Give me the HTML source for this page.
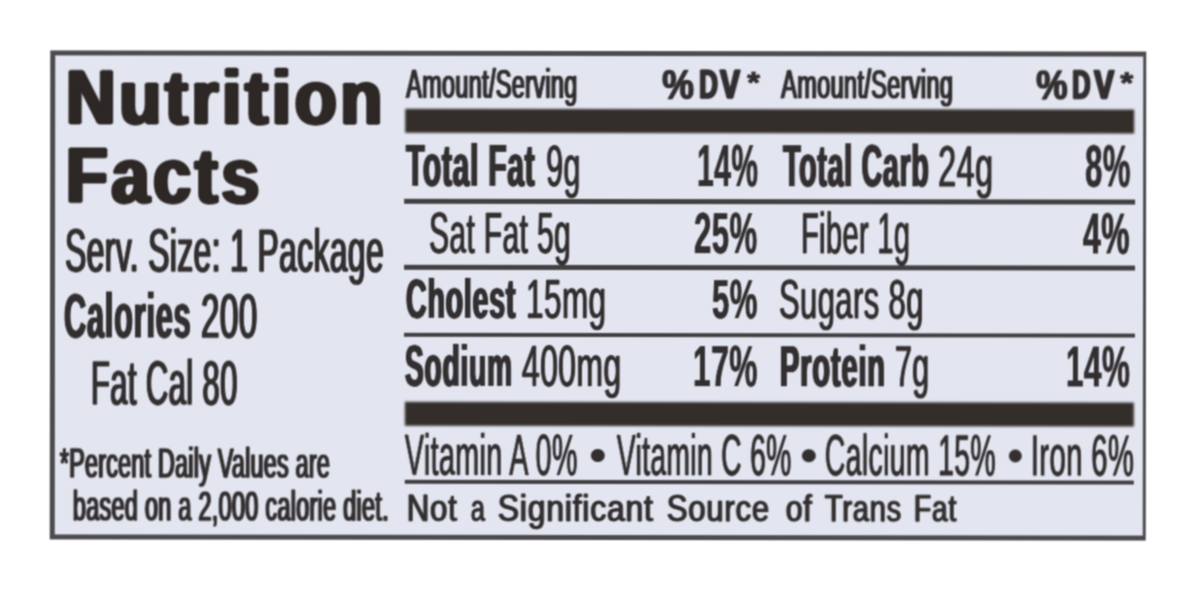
<!DOCTYPE html>
<html lang="en"><head><meta charset="utf-8"><title>Nutrition Facts</title>
<style>
html,body{margin:0;padding:0;background:#fff;overflow:hidden;}
body{width:1196px;height:591px;position:relative;overflow:hidden;font-family:"Liberation Sans",sans-serif;color:#332f30;}
#wrap{position:absolute;left:0;top:0;width:1196px;height:591px;transform:rotate(0.06deg);transform-origin:598px 295px;filter:url(#soft);}
.label{position:absolute;left:49.8px;top:50.8px;width:1096.5px;height:489.3px;background:#4e4b50;}
.panel{position:absolute;left:5.6px;top:5.6px;width:1087.3px;height:478.7px;background:#e3e6f0;}
.t{position:absolute;white-space:nowrap;line-height:1;transform-origin:0 0;margin:0;}
.r{position:absolute;}
.bar{filter:blur(0.9px);}
.rule{filter:blur(0.4px);}
.g{margin:0;padding:0;font:inherit;display:block;}
.b{position:absolute;border-radius:50%;background:#332f30;}
</style></head><body>
<svg width="0" height="0" style="position:absolute" aria-hidden="true"><defs><filter id="soft" x="0" y="0" width="100%" height="100%" color-interpolation-filters="sRGB"><feConvolveMatrix order="3" kernelMatrix="1 2 1 2 4 2 1 2 1" divisor="16" edgeMode="duplicate" preserveAlpha="false"/></filter></defs></svg>
<div id="wrap">
<div class="label"><div class="panel"></div></div>
<div class="r bar" style="left:405.2px;top:108.6px;width:728.5px;height:24.4px;background:#342e2b"></div>
<div class="r bar" style="left:405.0px;top:402.4px;width:728.5px;height:23.2px;background:#342e2b"></div>
<div class="r rule" style="left:404px;top:199.0px;width:730.5px;height:4.8px;background:#424043"></div>
<div class="r rule" style="left:404px;top:265.4px;width:730.5px;height:4.8px;background:#424043"></div>
<div class="r rule" style="left:404px;top:332.5px;width:730.5px;height:4.8px;background:#424043"></div>
<div class="r rule" style="left:404.5px;top:479.6px;width:729.0px;height:4.7px;background:#424043"></div>
<h1 class="g title">
<span class="t" style="left:66.47px;top:59.60px;font-size:76.75px;transform:scaleX(0.8882);font-weight:700;color:#2d2725;-webkit-text-stroke:2.0px #2d2725;letter-spacing:4.5px;text-shadow:0.83px 0 0 #2d2725,-0.83px 0 0 #2d2725,1.67px 0 0 #2d2725,-1.67px 0 0 #2d2725,2.50px 0 0 #2d2725,-2.50px 0 0 #2d2725;">Nutrition</span>
<span class="t" style="left:66.48px;top:138.00px;font-size:77.04px;transform:scaleX(0.8811);font-weight:700;color:#2d2725;-webkit-text-stroke:2.0px #2d2725;letter-spacing:4.5px;text-shadow:0.83px 0 0 #2d2725,-0.83px 0 0 #2d2725,1.67px 0 0 #2d2725,-1.67px 0 0 #2d2725,2.50px 0 0 #2d2725,-2.50px 0 0 #2d2725;">Facts</span>
</h1>
<section class="g serving">
<span class="t" style="left:65.07px;top:221.05px;font-size:61.05px;transform:scaleX(0.5205);-webkit-text-stroke:0.5px #332f30;letter-spacing:0.8px;text-shadow:0.75px 0 0 #332f30,-0.75px 0 0 #332f30,1.50px 0 0 #332f30,-1.50px 0 0 #332f30;">Serv. Size: 1 Package</span>
<span class="t" style="left:64.36px;top:285.20px;font-size:63.37px;transform:scaleX(0.4863);font-weight:700;letter-spacing:1.5px;text-shadow:0.75px 0 0 #332f30,-0.75px 0 0 #332f30,1.50px 0 0 #332f30,-1.50px 0 0 #332f30;">Calories</span>
<span class="t" style="left:200.74px;top:284.95px;font-size:62.65px;transform:scaleX(0.5307);-webkit-text-stroke:0.5px #332f30;letter-spacing:0.8px;text-shadow:0.75px 0 0 #332f30,-0.75px 0 0 #332f30,1.50px 0 0 #332f30,-1.50px 0 0 #332f30;">200</span>
<span class="t" style="left:91.18px;top:352.75px;font-size:62.07px;transform:scaleX(0.4986);-webkit-text-stroke:0.5px #332f30;letter-spacing:0.8px;text-shadow:0.75px 0 0 #332f30,-0.75px 0 0 #332f30,1.50px 0 0 #332f30,-1.50px 0 0 #332f30;">Fat Cal 80</span>
</section>
<p class="g footnote">
<span class="t" style="left:60.41px;top:442.95px;font-size:42.44px;transform:scaleX(0.5482);-webkit-text-stroke:0.7px #332f30;letter-spacing:0.5px;text-shadow:0.75px 0 0 #332f30,-0.75px 0 0 #332f30,1.50px 0 0 #332f30,-1.50px 0 0 #332f30;">*Percent Daily Values are</span>
<span class="t" style="left:72.52px;top:485.65px;font-size:42.15px;transform:scaleX(0.5566);-webkit-text-stroke:0.7px #332f30;letter-spacing:0.5px;text-shadow:0.75px 0 0 #332f30,-0.75px 0 0 #332f30,1.50px 0 0 #332f30,-1.50px 0 0 #332f30;">based on a 2,000 calorie diet.</span>
</p>
<header class="g thead">
<span class="t" style="left:406.49px;top:62.70px;font-size:41.57px;transform:scaleX(0.5635);-webkit-text-stroke:0.6px #332f30;letter-spacing:0.6px;text-shadow:0.72px 0 0 #332f30,-0.72px 0 0 #332f30,1.45px 0 0 #332f30,-1.45px 0 0 #332f30;">Amount/Serving</span>
<span class="t" style="left:661.54px;top:63.65px;font-size:41.86px;transform:scaleX(0.8530);font-weight:700;-webkit-text-stroke:0.5px #332f30;text-shadow:0.80px 0 0 #332f30,-0.80px 0 0 #332f30;">%</span>
<span class="t" style="left:698.96px;top:65.10px;font-size:40.26px;transform:scaleX(0.6429);font-weight:700;-webkit-text-stroke:1.6px #332f30;text-shadow:0.80px 0 0 #332f30,-0.80px 0 0 #332f30,1.60px 0 0 #332f30,-1.60px 0 0 #332f30;">D</span>
<span class="t" style="left:720.35px;top:65.10px;font-size:40.26px;transform:scaleX(0.7296);font-weight:700;-webkit-text-stroke:1.6px #332f30;text-shadow:0.80px 0 0 #332f30,-0.80px 0 0 #332f30,1.60px 0 0 #332f30,-1.60px 0 0 #332f30;">V</span>
<span class="t" style="left:746.70px;top:67.00px;font-size:30.23px;transform:scaleX(1.0752);font-weight:700;-webkit-text-stroke:0.8px #332f30;text-shadow:0.25px 0 0 #332f30,-0.25px 0 0 #332f30;">*</span>
<span class="t" style="left:780.79px;top:62.70px;font-size:41.57px;transform:scaleX(0.5658);-webkit-text-stroke:0.6px #332f30;letter-spacing:0.6px;text-shadow:0.72px 0 0 #332f30,-0.72px 0 0 #332f30,1.45px 0 0 #332f30,-1.45px 0 0 #332f30;">Amount/Serving</span>
<span class="t" style="left:1035.54px;top:63.65px;font-size:41.86px;transform:scaleX(0.8425);font-weight:700;-webkit-text-stroke:0.5px #332f30;text-shadow:0.80px 0 0 #332f30,-0.80px 0 0 #332f30;">%</span>
<span class="t" style="left:1071.85px;top:65.10px;font-size:40.26px;transform:scaleX(0.6299);font-weight:700;-webkit-text-stroke:1.6px #332f30;text-shadow:0.80px 0 0 #332f30,-0.80px 0 0 #332f30,1.60px 0 0 #332f30,-1.60px 0 0 #332f30;">D</span>
<span class="t" style="left:1094.07px;top:65.10px;font-size:40.26px;transform:scaleX(0.7358);font-weight:700;-webkit-text-stroke:1.6px #332f30;text-shadow:0.80px 0 0 #332f30,-0.80px 0 0 #332f30,1.60px 0 0 #332f30,-1.60px 0 0 #332f30;">V</span>
<span class="t" style="left:1119.82px;top:67.40px;font-size:30.23px;transform:scaleX(1.1053);font-weight:700;-webkit-text-stroke:0.8px #332f30;text-shadow:0.25px 0 0 #332f30,-0.25px 0 0 #332f30;">*</span>
</header>
<section class="g rows">
<span class="t" style="left:406.27px;top:136.80px;font-size:58.58px;transform:scaleX(0.5107);font-weight:700;letter-spacing:1.5px;text-shadow:0.75px 0 0 #332f30,-0.75px 0 0 #332f30,1.50px 0 0 #332f30,-1.50px 0 0 #332f30;">Total Fat</span>
<span class="t" style="left:545.50px;top:136.65px;font-size:58.14px;transform:scaleX(0.5239);-webkit-text-stroke:0.3px #332f30;letter-spacing:0.8px;text-shadow:0.90px 0 0 #332f30,-0.90px 0 0 #332f30;">9g</span>
<span class="t" style="left:696.50px;top:136.80px;font-size:58.58px;transform:scaleX(0.5111);font-weight:700;letter-spacing:0.9px;text-shadow:0.45px 0 0 #332f30,-0.45px 0 0 #332f30;">14%</span>
<span class="t" style="left:782.73px;top:136.80px;font-size:58.58px;transform:scaleX(0.4874);font-weight:700;letter-spacing:1.5px;text-shadow:0.75px 0 0 #332f30,-0.75px 0 0 #332f30,1.50px 0 0 #332f30,-1.50px 0 0 #332f30;">Total Carb</span>
<span class="t" style="left:938.17px;top:136.65px;font-size:58.14px;transform:scaleX(0.5569);-webkit-text-stroke:0.3px #332f30;letter-spacing:0.8px;text-shadow:0.90px 0 0 #332f30,-0.90px 0 0 #332f30;">24g</span>
<span class="t" style="left:1084.61px;top:136.80px;font-size:58.58px;transform:scaleX(0.5286);font-weight:700;letter-spacing:0.9px;text-shadow:0.45px 0 0 #332f30,-0.45px 0 0 #332f30;">8%</span>
<span class="t" style="left:429.00px;top:204.65px;font-size:56.98px;transform:scaleX(0.5246);-webkit-text-stroke:0.3px #332f30;letter-spacing:0.8px;text-shadow:0.90px 0 0 #332f30,-0.90px 0 0 #332f30;">Sat Fat 5g</span>
<span class="t" style="left:694.13px;top:204.80px;font-size:57.41px;transform:scaleX(0.5413);font-weight:700;letter-spacing:0.9px;text-shadow:0.50px 0 0 #332f30,-0.50px 0 0 #332f30;">25%</span>
<span class="t" style="left:800.80px;top:204.65px;font-size:56.98px;transform:scaleX(0.5076);-webkit-text-stroke:0.3px #332f30;letter-spacing:0.8px;text-shadow:0.90px 0 0 #332f30,-0.90px 0 0 #332f30;">Fiber 1g</span>
<span class="t" style="left:1083.48px;top:204.80px;font-size:57.41px;transform:scaleX(0.5523);font-weight:700;letter-spacing:0.9px;text-shadow:0.50px 0 0 #332f30,-0.50px 0 0 #332f30;">4%</span>
<span class="t" style="left:405.84px;top:271.00px;font-size:55.96px;transform:scaleX(0.5108);font-weight:700;letter-spacing:1.5px;text-shadow:0.75px 0 0 #332f30,-0.75px 0 0 #332f30,1.50px 0 0 #332f30,-1.50px 0 0 #332f30;">Cholest</span>
<span class="t" style="left:526.33px;top:271.85px;font-size:55.52px;transform:scaleX(0.5671);-webkit-text-stroke:0.3px #332f30;letter-spacing:0.8px;text-shadow:0.90px 0 0 #332f30,-0.90px 0 0 #332f30;">15mg</span>
<span class="t" style="left:711.69px;top:271.00px;font-size:55.96px;transform:scaleX(0.5561);font-weight:700;letter-spacing:0.9px;text-shadow:0.45px 0 0 #332f30,-0.45px 0 0 #332f30;">5%</span>
<span class="t" style="left:779.07px;top:271.85px;font-size:55.52px;transform:scaleX(0.5563);-webkit-text-stroke:0.3px #332f30;letter-spacing:0.8px;text-shadow:0.90px 0 0 #332f30,-0.90px 0 0 #332f30;">Sugars 8g</span>
<span class="t" style="left:405.04px;top:337.70px;font-size:57.70px;transform:scaleX(0.4896);font-weight:700;letter-spacing:1.5px;text-shadow:0.75px 0 0 #332f30,-0.75px 0 0 #332f30,1.50px 0 0 #332f30,-1.50px 0 0 #332f30;">Sodium</span>
<span class="t" style="left:522.03px;top:337.55px;font-size:57.27px;transform:scaleX(0.5563);-webkit-text-stroke:0.3px #332f30;letter-spacing:0.8px;text-shadow:0.90px 0 0 #332f30,-0.90px 0 0 #332f30;">400mg</span>
<span class="t" style="left:693.00px;top:337.70px;font-size:57.70px;transform:scaleX(0.5498);font-weight:700;letter-spacing:0.9px;text-shadow:0.45px 0 0 #332f30,-0.45px 0 0 #332f30;">17%</span>
<span class="t" style="left:780.24px;top:337.70px;font-size:57.70px;transform:scaleX(0.5061);font-weight:700;letter-spacing:1.5px;text-shadow:0.75px 0 0 #332f30,-0.75px 0 0 #332f30,1.50px 0 0 #332f30,-1.50px 0 0 #332f30;">Protein</span>
<span class="t" style="left:894.90px;top:337.55px;font-size:57.27px;transform:scaleX(0.5313);-webkit-text-stroke:0.3px #332f30;letter-spacing:0.8px;text-shadow:0.90px 0 0 #332f30,-0.90px 0 0 #332f30;">7g</span>
<span class="t" style="left:1065.91px;top:337.70px;font-size:57.70px;transform:scaleX(0.5463);font-weight:700;letter-spacing:0.9px;text-shadow:0.45px 0 0 #332f30,-0.45px 0 0 #332f30;">14%</span>
</section>
<section class="g vitamins">
<span class="b" style="left:591.0px;top:448.8px;width:13.6px;height:13.6px"></span>
<span class="b" style="left:802.2px;top:448.8px;width:13.6px;height:13.6px"></span>
<span class="b" style="left:1008.7px;top:448.8px;width:13.6px;height:13.6px"></span>
<span class="t" style="left:405.42px;top:427.15px;font-size:57.85px;transform:scaleX(0.4950);-webkit-text-stroke:0.3px #332f30;letter-spacing:0.8px;text-shadow:0.70px 0 0 #332f30,-0.70px 0 0 #332f30;">Vitamin A 0%</span>
<span class="t" style="left:616.81px;top:427.15px;font-size:57.85px;transform:scaleX(0.4870);-webkit-text-stroke:0.3px #332f30;letter-spacing:0.8px;text-shadow:0.70px 0 0 #332f30,-0.70px 0 0 #332f30;">Vitamin C 6%</span>
<span class="t" style="left:825.44px;top:427.15px;font-size:57.85px;transform:scaleX(0.4897);-webkit-text-stroke:0.3px #332f30;letter-spacing:0.8px;text-shadow:0.70px 0 0 #332f30,-0.70px 0 0 #332f30;">Calcium 15%</span>
<span class="t" style="left:1031.31px;top:427.15px;font-size:57.85px;transform:scaleX(0.5046);-webkit-text-stroke:0.3px #332f30;letter-spacing:0.8px;text-shadow:0.70px 0 0 #332f30,-0.70px 0 0 #332f30;">Iron 6%</span>
</section>
<footer class="g note">
<span class="t" style="left:407.34px;top:490.30px;font-size:37.36px;transform:scaleX(0.8317);-webkit-text-stroke:0.8px #332f30;letter-spacing:1.0px;text-shadow:0.85px 0 0 #332f30,-0.85px 0 0 #332f30;">Not</span>
<span class="t" style="left:470.97px;top:490.30px;font-size:37.36px;transform:scaleX(0.6756);-webkit-text-stroke:0.8px #332f30;letter-spacing:1.0px;text-shadow:0.85px 0 0 #332f30,-0.85px 0 0 #332f30;">a</span>
<span class="t" style="left:498.01px;top:490.30px;font-size:37.36px;transform:scaleX(0.8502);-webkit-text-stroke:0.8px #332f30;letter-spacing:1.0px;text-shadow:0.85px 0 0 #332f30,-0.85px 0 0 #332f30;">Significant</span>
<span class="t" style="left:667.31px;top:490.30px;font-size:37.36px;transform:scaleX(0.8295);-webkit-text-stroke:0.8px #332f30;letter-spacing:1.0px;text-shadow:0.85px 0 0 #332f30,-0.85px 0 0 #332f30;">Source</span>
<span class="t" style="left:785.50px;top:490.30px;font-size:37.36px;transform:scaleX(0.8054);-webkit-text-stroke:0.8px #332f30;letter-spacing:1.0px;text-shadow:0.85px 0 0 #332f30,-0.85px 0 0 #332f30;">of</span>
<span class="t" style="left:825.17px;top:490.30px;font-size:37.36px;transform:scaleX(0.7788);-webkit-text-stroke:0.8px #332f30;letter-spacing:1.0px;text-shadow:0.85px 0 0 #332f30,-0.85px 0 0 #332f30;">Trans</span>
<span class="t" style="left:914.47px;top:490.30px;font-size:37.36px;transform:scaleX(0.7596);-webkit-text-stroke:0.8px #332f30;letter-spacing:1.0px;text-shadow:0.85px 0 0 #332f30,-0.85px 0 0 #332f30;">Fat</span>
</footer>
</div>
</body></html>
